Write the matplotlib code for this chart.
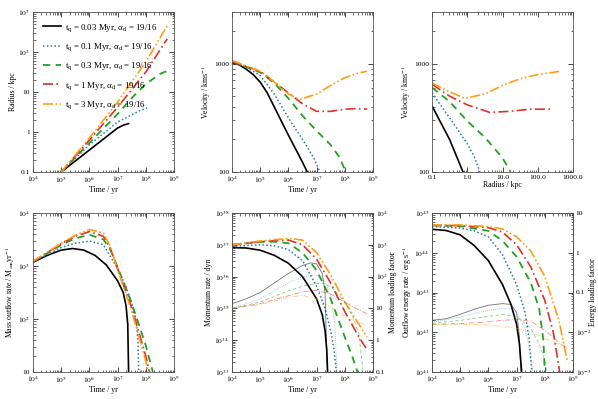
import numpy as np
import matplotlib
matplotlib.use("Agg")
import matplotlib.pyplot as plt
from matplotlib.ticker import FixedLocator, FixedFormatter, LogLocator, NullFormatter

plt.rcParams['font.family'] = ['Liberation Serif', 'DejaVu Serif']
plt.rcParams['mathtext.fontset'] = 'stix'
plt.rcParams['font.size'] = 5.6

# ---------------- data (log10 values) ----------------
labels = ["$\\mathregular{t_q}$ = 0.03 Myr, $\\mathregular{\\alpha_d}$ = 19/16",
          "$\\mathregular{t_q}$ = 0.1 Myr, $\\mathregular{\\alpha_d}$ = 19/16",
          "$\\mathregular{t_q}$ = 0.3 Myr, $\\mathregular{\\alpha_d}$ = 19/16",
          "$\\mathregular{t_q}$ = 1 Myr, $\\mathregular{\\alpha_d}$ = 19/16",
          "$\\mathregular{t_q}$ = 3 Myr, $\\mathregular{\\alpha_d}$ = 19/16"]

# Panel 1: radius (kpc) vs time (yr)
rad_logt = [[5, 6, 7, 7.2, 7.39],
            [5, 6, 7, 7.5, 7.8, 8.05],
            [5, 6, 7, 7.5, 8, 8.5, 8.73],
            [5, 6, 7, 8, 8.76],
            [5, 6, 7, 8, 8.76]]
rad_logR = [[-1, -0.45, 0.1, 0.17, 0.21],
            [-1, -0.32, 0.25, 0.43, 0.54, 0.6],
            [-1, -0.27, 0.45, 0.85, 1.2, 1.45, 1.52],
            [-1, -0.2, 0.62, 1.5, 2.33],
            [-1, -0.15, 0.75, 1.75, 2.66]]

# Panel 2: velocity (km/s) vs time (yr)
vel_logt = [[4, 4.25, 4.5, 4.75, 5, 5.25, 5.5, 6, 6.5, 6.67],
            [4, 4.5, 5, 5.5, 6, 6.5, 6.9, 7.12],
            [4, 5, 5.5, 6, 6.5, 7, 7.5, 7.8, 8.04],
            [4, 5, 5.5, 6, 6.5, 7, 7.5, 8, 8.4, 8.79],
            [4, 5, 5.5, 6, 6.4, 7, 7.5, 8, 8.5, 8.79]]
vel_logv = [[3.01, 2.99, 2.95, 2.9, 2.83, 2.73, 2.6, 2.34, 2.09, 2.0],
            [3.01, 2.97, 2.89, 2.72, 2.5, 2.3, 2.13, 2.0],
            [3.02, 2.92, 2.82, 2.68, 2.52, 2.38, 2.25, 2.14, 2.0],
            [3.02, 2.93, 2.83, 2.73, 2.63, 2.56, 2.56, 2.58, 2.585, 2.58],
            [3.03, 2.93, 2.83, 2.72, 2.67, 2.72, 2.8, 2.87, 2.915, 2.93]]

# Panel 3: velocity (km/s) vs radius (kpc)
vr_logR = [[-1, -0.5, -0.12],
           [-1, -0.5, 0, 0.2, 0.36],
           [-1, -0.5, 0, 0.5, 1.0, 1.23],
           [-1, -0.5, 0, 0.64, 1.2, 1.8, 2.35],
           [-1, -0.5, -0.07, 0.5, 1.0, 1.5, 2.0, 2.64]]
vr_logv = [[2.61, 2.3, 2.0],
           [2.73, 2.5, 2.26, 2.14, 2.0],
           [2.78, 2.65, 2.47, 2.32, 2.13, 2.0],
           [2.81, 2.7, 2.62, 2.55, 2.56, 2.58, 2.58],
           [2.82, 2.74, 2.68, 2.72, 2.8, 2.86, 2.9, 2.93]]

# Panel 4: mass outflow rate (Msun/yr) vs time
mdot_logt = [[4, 4.5, 5, 5.4, 5.8, 6.2, 6.6, 7.0, 7.2, 7.3, 7.36, 7.39],
             [4, 5, 5.5, 6, 6.5, 7, 7.3, 7.5, 7.65, 7.72, 7.75],
             [4, 5, 5.5, 6, 6.5, 6.75, 7, 7.5, 8, 8.25],
             [4, 5, 5.5, 6, 6.5, 6.75, 7, 7.5, 8, 8.13],
             [4, 5, 5.5, 6, 6.5, 6.75, 7, 7.5, 8, 8.07]]
mdot_logm = [[3.07, 3.2, 3.3, 3.33, 3.3, 3.2, 3.02, 2.72, 2.5, 2.25, 1.9, 1.0],
             [3.08, 3.35, 3.43, 3.47, 3.4, 2.95, 2.6, 2.3, 2.0, 1.6, 1.0],
             [3.08, 3.4, 3.52, 3.59, 3.5, 3.3, 2.98, 2.3, 1.5, 1.0],
             [3.08, 3.42, 3.56, 3.65, 3.56, 3.32, 2.95, 2.22, 1.3, 1.0],
             [3.09, 3.43, 3.58, 3.69, 3.62, 3.35, 2.93, 2.15, 1.2, 1.0]]

# Panel 5: momentum rate (dyn) and momentum loading factor vs time
pdot_logt = [[4, 4.5, 5, 5.5, 6, 6.5, 7, 7.2, 7.3, 7.36, 7.39],
             [4, 5, 5.5, 6, 6.5, 7, 7.3, 7.5, 7.62, 7.7],
             [4, 5, 5.5, 6, 6.5, 7, 7.5, 8, 8.3, 8.45],
             [4, 5, 6, 6.5, 7, 7.5, 8, 8.5, 8.79],
             [4, 5, 6, 6.5, 7, 7.5, 8, 8.5, 8.79]]
pdot_logp = [[36.91, 36.9, 36.83, 36.67, 36.42, 36.0, 35.3, 34.8, 34.3, 33.7, 33.0],
             [36.95, 37.0, 36.97, 36.85, 36.5, 35.7, 35.0, 34.3, 33.7, 33.0],
             [37.0, 37.09, 37.1, 37.05, 36.75, 36.2, 35.3, 34.1, 33.4, 33.0],
             [37.0, 37.1, 37.15, 37.0, 36.55, 35.8, 34.9, 34.1, 33.7],
             [37.0, 37.12, 37.2, 37.15, 36.75, 36.05, 35.2, 34.5, 34.1]]
ploadf_logt = [[4, 4.5, 5, 5.5, 6, 6.5, 6.8, 7.0, 7.2, 7.3, 7.38],
               [4, 5, 5.5, 6, 6.5, 7, 7.3, 7.5, 7.65, 7.72],
               [4, 5, 6, 6.5, 7, 7.3, 7.6, 8, 8.3, 8.5, 8.65],
               [4, 5, 6, 6.5, 7, 7.5, 8, 8.5, 8.79],
               [4, 5, 6, 6.5, 7, 7.5, 8, 8.5, 8.79]]
ploadf_logf = [[1.15, 1.3, 1.5, 1.8, 2.1, 2.35, 2.43, 2.4, 2.1, 1.5, -1],
               [1.0, 1.3, 1.55, 1.8, 2.0, 2.05, 1.85, 1.4, 0.5, -1],
               [1.0, 1.2, 1.55, 1.7, 1.78, 1.78, 1.6, 1.2, 0.7, 0.2, -1],
               [1.0, 1.15, 1.4, 1.52, 1.57, 1.45, 1.2, 0.95, 0.83],
               [1.0, 1.12, 1.35, 1.41, 1.3, 1.05, 0.75, 0.55, 0.47]]

# Panel 6: outflow energy rate (erg/s) and energy loading factor vs time
edot_logt = [[4, 4.5, 5, 5.5, 6, 6.5, 6.8, 7.0, 7.1, 7.18],
             [4, 5, 5.5, 6, 6.5, 7, 7.3, 7.45, 7.54],
             [4, 5, 6, 6.5, 7, 7.5, 7.8, 7.95, 8.0],
             [4, 5, 6, 6.5, 7, 7.5, 8, 8.3, 8.53],
             [4, 5, 6, 6.5, 7, 7.5, 8, 8.5, 8.79]]
edot_loge = [[44.59, 44.56, 44.45, 44.18, 43.8, 43.2, 42.7, 42.2, 41.7, 41.0],
             [44.66, 44.62, 44.55, 44.4, 43.95, 43.2, 42.5, 41.8, 41.0],
             [44.69, 44.67, 44.55, 44.3, 43.9, 43.25, 42.6, 41.8, 41.0],
             [44.69, 44.68, 44.63, 44.52, 44.2, 43.65, 42.8, 42.0, 41.0],
             [44.7, 44.7, 44.66, 44.6, 44.4, 44.05, 43.4, 42.3, 41.3]]
eloadf_logt = [[4, 4.5, 5, 5.5, 6, 6.5, 6.8, 7.0, 7.1, 7.15],
               [4, 5, 5.5, 6, 6.5, 6.8, 7, 7.3, 7.45, 7.57],
               [4, 5, 6, 6.5, 7, 7.5, 7.8, 8.0, 8.07],
               [4, 5, 6, 6.5, 7, 7.5, 8, 8.5, 8.79],
               [4, 5, 6, 6.5, 7, 7.5, 8, 8.5, 8.79]]
eloadf_logf = [[-1.7, -1.66, -1.55, -1.42, -1.32, -1.28, -1.3, -1.5, -2.1, -3],
               [-1.75, -1.62, -1.52, -1.45, -1.4, -1.4, -1.5, -1.9, -2.4, -3],
               [-1.78, -1.7, -1.6, -1.55, -1.6, -1.9, -2.3, -2.7, -3],
               [-1.8, -1.78, -1.74, -1.7, -1.68, -1.72, -1.95, -2.25, -2.42],
               [-1.8, -1.8, -1.82, -1.85, -1.9, -2.0, -2.15, -2.3, -2.37]]

# ---------------- styles ----------------
colors = ['black', '#2878b5', '#22a022', '#e0302a', '#ff9f10']
styles = ['-', (0, (1, 1.5)), (0, (4, 3)), (0, (6, 2, 1, 2)), (0, (6, 1.5, 1, 1.5, 1, 1.5))]
lw_thick = [1.2, 1.1, 1.3, 1.2, 1.2]

fig = plt.figure(figsize=(5.98, 3.99), dpi=100)
W, H = 598.0, 399.0
cols_x = [33, 232, 432]
pw = 141
rows = [(12, 172), (213, 372)]


def make_ax(col, row):
    x0 = cols_x[col]
    y0, y1 = rows[row]
    return fig.add_axes([x0 / W, 1 - y1 / H, pw / W, (y1 - y0) / H])


def style_ax(ax, right=True):
    ax.tick_params(which='both', direction='in', top=True, right=right, labelsize=5.4, pad=2)
    ax.tick_params(which='major', length=3.5, width=0.5)
    ax.tick_params(which='minor', length=1.8, width=0.4)
    for s in ax.spines.values():
        s.set_linewidth(0.6)
        s.set_color('#555555')


def set_log_ticks(axis, ticks, labels_):
    axis.set_major_locator(FixedLocator(ticks))
    axis.set_major_formatter(FixedFormatter(labels_))
    axis.set_minor_locator(LogLocator(base=10, subs=np.arange(2, 10), numticks=20))
    axis.set_minor_formatter(NullFormatter())


time_ticks = [1e4, 1e5, 1e6, 1e7, 1e8, 1e9]
time_labels = ['$10^{4}$', '$10^{5}$', '$10^{6}$', '$10^{7}$', '$10^{8}$', '$10^{9}$']


def p10(a):
    return np.power(10.0, np.asarray(a, dtype=float))


# Panel 1
ax = make_ax(0, 0)
for i in range(5):
    ax.plot(p10(rad_logt[i]), p10(rad_logR[i]), color=colors[i], ls=styles[i], lw=lw_thick[i], label=labels[i])
ax.set_xscale('log'); ax.set_yscale('log')
ax.set_xlim(1e4, 1e9); ax.set_ylim(0.1, 1000)
set_log_ticks(ax.xaxis, time_ticks, time_labels)
set_log_ticks(ax.yaxis, [0.1, 1, 10, 100, 1000], ['0.1', '1', '10', '$10^{2}$', '$10^{3}$'])
style_ax(ax)
ax.set_xlabel('Time / yr', labelpad=1)
ax.set_ylabel('Radius / kpc', labelpad=1)
ax.legend(loc='upper left', frameon=False, fontsize=6.4, handlelength=2.0, handletextpad=0.5,
          labelspacing=0.85, borderaxespad=0.7)

# Panel 2
ax = make_ax(1, 0)
for i in range(5):
    ax.plot(p10(vel_logt[i]), p10(vel_logv[i]), color=colors[i], ls=styles[i], lw=lw_thick[i])
ax.set_xscale('log'); ax.set_yscale('log')
ax.set_xlim(1e4, 1e9); ax.set_ylim(100, 3000)
set_log_ticks(ax.xaxis, time_ticks, time_labels)
set_log_ticks(ax.yaxis, [100, 1000], ['100', '1000'])
style_ax(ax)
ax.set_xlabel('Time / yr', labelpad=1)
ax.set_ylabel('Velocity / kms$^{-1}$', labelpad=1)

# Panel 3
ax = make_ax(2, 0)
for i in range(5):
    ax.plot(p10(vr_logR[i]), p10(vr_logv[i]), color=colors[i], ls=styles[i], lw=lw_thick[i])
ax.set_xscale('log'); ax.set_yscale('log')
ax.set_xlim(0.1, 1000); ax.set_ylim(100, 3000)
set_log_ticks(ax.xaxis, [0.1, 1, 10, 100, 1000], ['0.1', '1.0', '10.0', '100.0', '1000.0'])
set_log_ticks(ax.yaxis, [100, 1000], ['100', '1000'])
style_ax(ax)
ax.set_xlabel('Radius / kpc', labelpad=1)
ax.set_ylabel('Velocity / kms$^{-1}$', labelpad=1)

# Panel 4
ax = make_ax(0, 1)
for i in range(5):
    ax.plot(p10(mdot_logt[i]), p10(mdot_logm[i]), color=colors[i], ls=styles[i], lw=lw_thick[i])
ax.set_xscale('log'); ax.set_yscale('log')
ax.set_xlim(1e4, 1e9); ax.set_ylim(10, 1e4)
set_log_ticks(ax.xaxis, time_ticks, time_labels)
set_log_ticks(ax.yaxis, [10, 100, 1000, 1e4], ['10', '$10^{2}$', '$10^{3}$', '$10^{4}$'])
style_ax(ax)
ax.set_xlabel('Time / yr', labelpad=1)
ax.set_ylabel('Mass outflow rate / M$_{\\mathrm{sun}}$yr$^{-1}$', labelpad=1)

# Panel 5
ax = make_ax(1, 1)
ax2 = ax.twinx()
for i in range(5):
    ax.plot(p10(pdot_logt[i]), p10(pdot_logp[i]), color=colors[i], ls=styles[i], lw=lw_thick[i])
    ax2.plot(p10(ploadf_logt[i]), p10(ploadf_logf[i]), color=colors[i], ls=styles[i], lw=0.6, alpha=0.55)
for a in (ax, ax2):
    a.set_xscale('log'); a.set_yscale('log')
ax.set_xlim(1e4, 1e9); ax.set_ylim(1e33, 1e38); ax2.set_ylim(0.1, 1e4)
set_log_ticks(ax.xaxis, time_ticks, time_labels)
set_log_ticks(ax.yaxis, [1e33, 1e34, 1e35, 1e36, 1e37, 1e38],
              ['$10^{33}$', '$10^{34}$', '$10^{35}$', '$10^{36}$', '$10^{37}$', '$10^{38}$'])
set_log_ticks(ax2.yaxis, [0.1, 1, 10, 100, 1000, 1e4],
              ['0.1', '1', '10', '$10^{2}$', '$10^{3}$', '$10^{4}$'])
style_ax(ax, right=False)
style_ax(ax2)
ax.set_xlabel('Time / yr', labelpad=1)
ax.set_ylabel('Momentum rate / dyn', labelpad=1)
ax2.set_ylabel('Momentum loading factor', labelpad=1)

# Panel 6
ax = make_ax(2, 1)
ax2 = ax.twinx()
for i in range(5):
    ax.plot(p10(edot_logt[i]), p10(edot_loge[i]), color=colors[i], ls=styles[i], lw=lw_thick[i])
    ax2.plot(p10(eloadf_logt[i]), p10(eloadf_logf[i]), color=colors[i], ls=styles[i], lw=0.6, alpha=0.55)
for a in (ax, ax2):
    a.set_xscale('log'); a.set_yscale('log')
ax.set_xlim(1e4, 1e9); ax.set_ylim(1e41, 1e45); ax2.set_ylim(1e-3, 10)
set_log_ticks(ax.xaxis, time_ticks, time_labels)
set_log_ticks(ax.yaxis, [1e41, 1e42, 1e43, 1e44, 1e45],
              ['$10^{41}$', '$10^{42}$', '$10^{43}$', '$10^{44}$', '$10^{45}$'])
set_log_ticks(ax2.yaxis, [1e-3, 1e-2, 0.1, 1, 10],
              ['$10^{-3}$', '$10^{-2}$', '0.1', '1', '10'])
style_ax(ax, right=False)
style_ax(ax2)
ax.set_xlabel('Time / yr', labelpad=1)
ax.set_ylabel('Outflow energy rate / erg s$^{-1}$', labelpad=0.5)
ax2.set_ylabel('Energy loading factor')
ax2.yaxis.set_label_coords(1.115, 0.5)

fig.savefig('out.png', dpi=100)
